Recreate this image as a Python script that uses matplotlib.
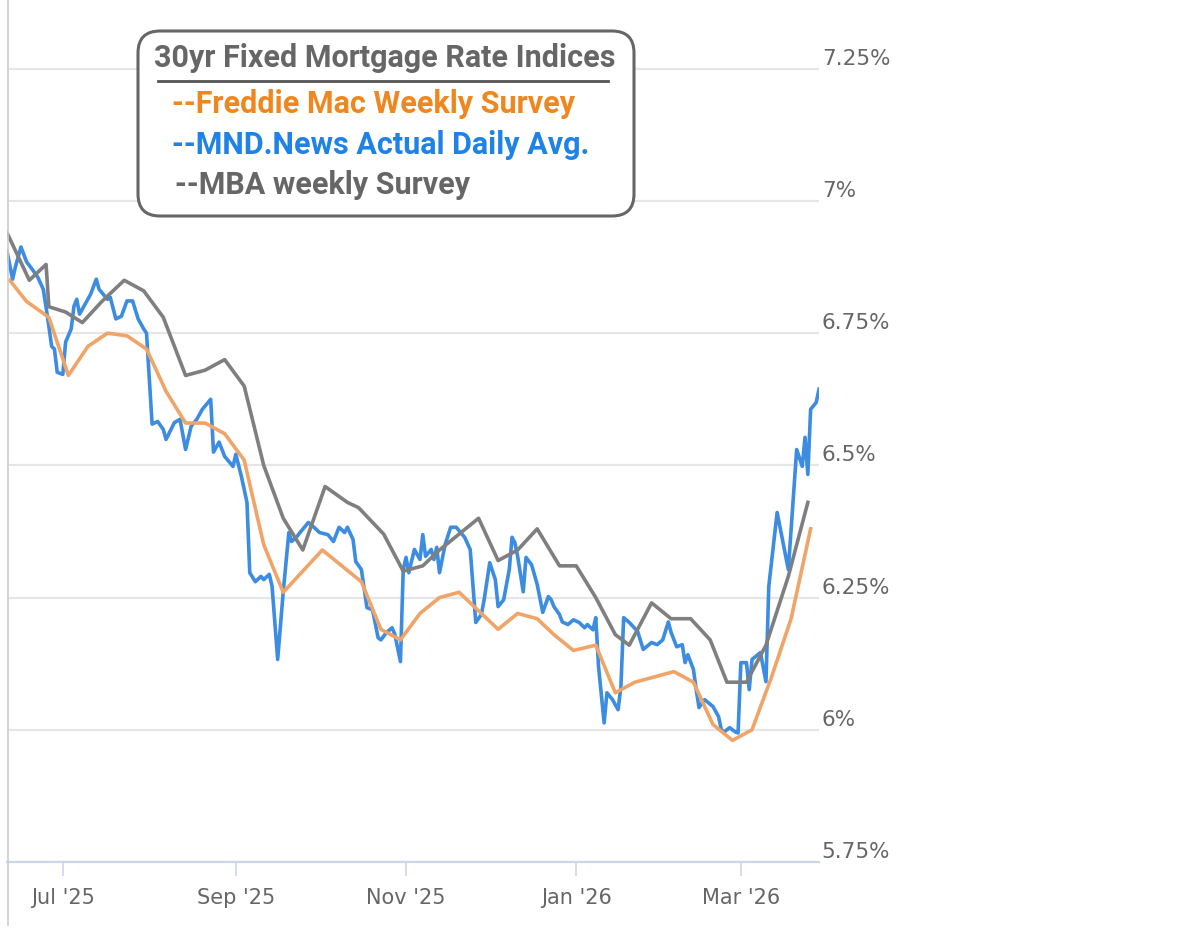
import pandas as pd
import matplotlib.pyplot as plt
from matplotlib.patches import FancyBboxPatch

# Freddie Mac weekly survey
freddie_dates = ['2025-06-12', '2025-06-18', '2025-06-26', '2025-07-03', '2025-07-10', '2025-07-17',
                 '2025-07-24', '2025-07-31', '2025-08-07', '2025-08-14', '2025-08-21', '2025-08-28',
                 '2025-09-04', '2025-09-11', '2025-09-18', '2025-09-25', '2025-10-02', '2025-10-09',
                 '2025-10-16', '2025-10-23', '2025-10-30', '2025-11-06', '2025-11-13', '2025-11-20',
                 '2025-11-26', '2025-12-04', '2025-12-11', '2025-12-18', '2025-12-24', '2025-12-31',
                 '2026-01-08', '2026-01-15', '2026-01-22', '2026-01-29', '2026-02-05', '2026-02-12',
                 '2026-02-19', '2026-02-26', '2026-03-05', '2026-03-12', '2026-03-19', '2026-03-26']
freddie_rates = [6.85, 6.81, 6.78, 6.67, 6.725, 6.75, 6.745, 6.72, 6.64, 6.58, 6.58, 6.56,
                 6.51, 6.35, 6.26, 6.30, 6.34, 6.31, 6.28, 6.19, 6.17, 6.22, 6.25, 6.26,
                 6.23, 6.19, 6.22, 6.21, 6.18, 6.15, 6.16, 6.07, 6.09, 6.10, 6.11, 6.09,
                 6.01, 5.98, 6.00, 6.10, 6.21, 6.38]

# MBA weekly survey
mba_dates = ['2025-06-11', '2025-06-19', '2025-06-25', '2025-06-26', '2025-07-02', '2025-07-08',
             '2025-07-15', '2025-07-23', '2025-07-30', '2025-08-06', '2025-08-14', '2025-08-21',
             '2025-08-28', '2025-09-04', '2025-09-11', '2025-09-18', '2025-09-25', '2025-10-03',
             '2025-10-11', '2025-10-15', '2025-10-24', '2025-10-31', '2025-11-07', '2025-11-13',
             '2025-11-20', '2025-11-27', '2025-12-04', '2025-12-11', '2025-12-18', '2025-12-26',
             '2026-01-01', '2026-01-08', '2026-01-15', '2026-01-20', '2026-01-28', '2026-02-04',
             '2026-02-11', '2026-02-18', '2026-02-24', '2026-03-03', '2026-03-10', '2026-03-18',
             '2026-03-25']
mba_rates = [6.94, 6.85, 6.88, 6.80, 6.79, 6.77, 6.81, 6.85, 6.83, 6.78, 6.67, 6.68,
             6.70, 6.65, 6.50, 6.40, 6.34, 6.46, 6.43, 6.42, 6.37, 6.30, 6.31, 6.34,
             6.37, 6.40, 6.32, 6.34, 6.38, 6.31, 6.31, 6.25, 6.18, 6.16, 6.24, 6.21,
             6.21, 6.17, 6.09, 6.09, 6.16, 6.29, 6.43]

# MND daily index
mnd_dates = ['2025-06-11', '2025-06-13', '2025-06-14', '2025-06-16', '2025-06-18', '2025-06-20',
             '2025-06-22', '2025-06-24', '2025-06-25', '2025-06-26', '2025-06-27', '2025-06-28',
             '2025-06-29', '2025-07-01', '2025-07-02', '2025-07-04', '2025-07-05', '2025-07-06',
             '2025-07-07', '2025-07-09', '2025-07-11', '2025-07-13', '2025-07-14', '2025-07-17',
             '2025-07-18', '2025-07-20', '2025-07-22', '2025-07-24', '2025-07-26', '2025-07-28',
             '2025-07-30', '2025-07-31', '2025-08-02', '2025-08-04', '2025-08-06', '2025-08-07',
             '2025-08-10', '2025-08-12', '2025-08-14', '2025-08-16', '2025-08-18', '2025-08-20',
             '2025-08-23', '2025-08-24', '2025-08-26', '2025-08-28', '2025-08-31', '2025-09-01',
             '2025-09-03', '2025-09-05', '2025-09-06', '2025-09-08', '2025-09-10', '2025-09-11',
             '2025-09-13', '2025-09-14', '2025-09-16', '2025-09-18', '2025-09-20', '2025-09-21',
             '2025-09-23', '2025-09-24', '2025-09-27', '2025-09-29', '2025-10-01', '2025-10-04',
             '2025-10-06', '2025-10-08', '2025-10-10', '2025-10-11', '2025-10-13', '2025-10-14',
             '2025-10-16', '2025-10-18', '2025-10-20', '2025-10-22', '2025-10-23', '2025-10-25',
             '2025-10-27', '2025-10-28', '2025-10-30', '2025-10-31', '2025-11-01', '2025-11-02',
             '2025-11-04', '2025-11-06', '2025-11-07', '2025-11-08', '2025-11-10', '2025-11-11',
             '2025-11-12', '2025-11-13', '2025-11-15', '2025-11-17', '2025-11-19', '2025-11-22',
             '2025-11-24', '2025-11-26', '2025-11-28', '2025-11-29', '2025-12-01', '2025-12-03',
             '2025-12-04', '2025-12-06', '2025-12-08', '2025-12-09', '2025-12-10', '2025-12-11',
             '2025-12-13', '2025-12-14', '2025-12-16', '2025-12-18', '2025-12-20', '2025-12-22',
             '2025-12-23', '2025-12-24', '2025-12-26', '2025-12-27', '2025-12-29', '2025-12-31',
             '2026-01-02', '2026-01-04', '2026-01-05', '2026-01-07', '2026-01-08', '2026-01-09',
             '2026-01-11', '2026-01-12', '2026-01-14', '2026-01-16', '2026-01-17', '2026-01-18',
             '2026-01-20', '2026-01-23', '2026-01-25', '2026-01-28', '2026-01-30', '2026-02-01',
             '2026-02-03', '2026-02-04', '2026-02-06', '2026-02-08', '2026-02-09', '2026-02-10',
             '2026-02-12', '2026-02-13', '2026-02-14', '2026-02-16', '2026-02-19', '2026-02-21',
             '2026-02-22', '2026-02-23', '2026-02-25', '2026-02-27', '2026-02-28', '2026-03-01',
             '2026-03-03', '2026-03-04', '2026-03-05', '2026-03-08', '2026-03-10', '2026-03-11',
             '2026-03-14', '2026-03-18', '2026-03-21', '2026-03-23', '2026-03-24', '2026-03-25',
             '2026-03-26', '2026-03-28', '2026-03-29']
mnd_rates = [6.905, 6.852, 6.875, 6.913, 6.885, 6.871, 6.856, 6.833, 6.799, 6.763, 6.725, 6.720,
             6.676, 6.672, 6.733, 6.758, 6.801, 6.814, 6.786, 6.805, 6.824, 6.852, 6.833, 6.814,
             6.818, 6.777, 6.782, 6.811, 6.811, 6.777, 6.758, 6.750, 6.578, 6.583, 6.568, 6.549,
             6.581, 6.587, 6.530, 6.574, 6.587, 6.606, 6.625, 6.525, 6.544, 6.517, 6.498, 6.521,
             6.479, 6.430, 6.297, 6.280, 6.290, 6.284, 6.294, 6.271, 6.133, 6.261, 6.373, 6.356,
             6.366, 6.373, 6.392, 6.383, 6.373, 6.369, 6.356, 6.383, 6.373, 6.383, 6.360, 6.318,
             6.303, 6.231, 6.227, 6.174, 6.170, 6.184, 6.193, 6.180, 6.129, 6.303, 6.326, 6.297,
             6.341, 6.322, 6.369, 6.328, 6.341, 6.322, 6.345, 6.297, 6.350, 6.383, 6.383, 6.364,
             6.341, 6.203, 6.218, 6.246, 6.316, 6.284, 6.233, 6.246, 6.303, 6.364, 6.354, 6.328,
             6.261, 6.326, 6.312, 6.275, 6.222, 6.252, 6.246, 6.233, 6.218, 6.204, 6.199, 6.208,
             6.203, 6.193, 6.199, 6.189, 6.212, 6.119, 6.013, 6.070, 6.057, 6.038, 6.081, 6.212,
             6.203, 6.186, 6.152, 6.165, 6.161, 6.170, 6.204, 6.184, 6.157, 6.161, 6.127, 6.142,
             6.114, 6.076, 6.042, 6.057, 6.044, 6.025, 6.000, 5.996, 6.004, 5.996, 5.994, 6.127,
             6.127, 6.076, 6.133, 6.146, 6.091, 6.271, 6.411, 6.303, 6.530, 6.498, 6.553, 6.483,
             6.606, 6.619, 6.644]

y_ticks = [5.75, 6.0, 6.25, 6.5, 6.75, 7.0, 7.25]
y_labels = ['5.75%', '6%', '6.25%', '6.5%', '6.75%', '7%', '7.25%']
x_ticks = ['2025-07-01', '2025-09-01', '2025-11-01', '2026-01-01', '2026-03-01']
x_labels = ["Jul '25", "Sep '25", "Nov '25", "Jan '26", "Mar '26"]

assert len(mnd_dates) == len(mnd_rates), (len(mnd_dates), len(mnd_rates))
assert len(mba_dates) == len(mba_rates)
assert len(freddie_dates) == len(freddie_rates)

W, H = 1183, 930
fig = plt.figure(figsize=(W / 100, H / 100), dpi=100)
ax = fig.add_axes([7 / W, 68 / H, 812 / W, 862 / H])

ax.plot(pd.to_datetime(mnd_dates), mnd_rates, color='#3c8ce1', lw=2.6, zorder=3)
ax.plot(pd.to_datetime(freddie_dates), freddie_rates, color='#f0a468', lw=2.6, zorder=4)
ax.plot(pd.to_datetime(mba_dates), mba_rates, color='#7f7f7f', lw=2.6, zorder=5)

ax.set_xlim(pd.Timestamp('2025-06-11'), pd.Timestamp('2026-03-29'))
ax.set_ylim(5.75, 7.38)

ax.set_yticks(y_ticks)
ax.set_yticklabels(y_labels)
ax.yaxis.tick_right()
ax.tick_params(axis='y', length=0, pad=2, labelsize=15.5, labelcolor='#666666')
for lab in ax.get_yticklabels():
    lab.set_va('bottom')
ax.grid(axis='y', color='#e6e6e6', lw=1.6)
ax.set_axisbelow(True)

ax.set_xticks(pd.to_datetime(x_ticks))
ax.set_xticklabels(x_labels)
ax.tick_params(axis='x', length=10, width=1.2, color='#ccd6eb', pad=9, labelsize=15,
               labelcolor='#666666')

for s in ['top', 'right', 'left']:
    ax.spines[s].set_visible(False)
ax.spines['bottom'].set_color('#ccd6eb')
ax.spines['bottom'].set_linewidth(1.6)

# overlay in pixel units for the framed legend
ov = fig.add_axes([0, 0, 1, 1])
ov.set_xlim(0, W)
ov.set_ylim(H, 0)
ov.axis('off')
ov.patch.set_alpha(0)
ov.plot([8, 8], [0, 925], color='#cccccc', lw=1.2)

box = FancyBboxPatch((138, 31), 496, 185, boxstyle='round,pad=0,rounding_size=22',
                     fc='white', ec='#666666', lw=2.2)
ov.add_patch(box)
ov.text(385, 58, '30yr Fixed Mortgage Rate Indices', ha='center', va='center',
        fontsize=22, fontweight='bold', color='#666666', family='Roboto')
ov.plot([158, 608], [81, 81], color='#555555', lw=2)
ov.text(172, 104, '--Freddie Mac Weekly Survey', ha='left', va='center',
        fontsize=22, fontweight='bold', color='#f0871e', family='Roboto')
ov.text(172, 145, '--MND.News Actual Daily Avg.', ha='left', va='center',
        fontsize=22, fontweight='bold', color='#1e82e6', family='Roboto')
ov.text(175, 185, '--MBA weekly Survey', ha='left', va='center',
        fontsize=22, fontweight='bold', color='#666666', family='Roboto')

fig.savefig('out.png', dpi=100, facecolor='white')
